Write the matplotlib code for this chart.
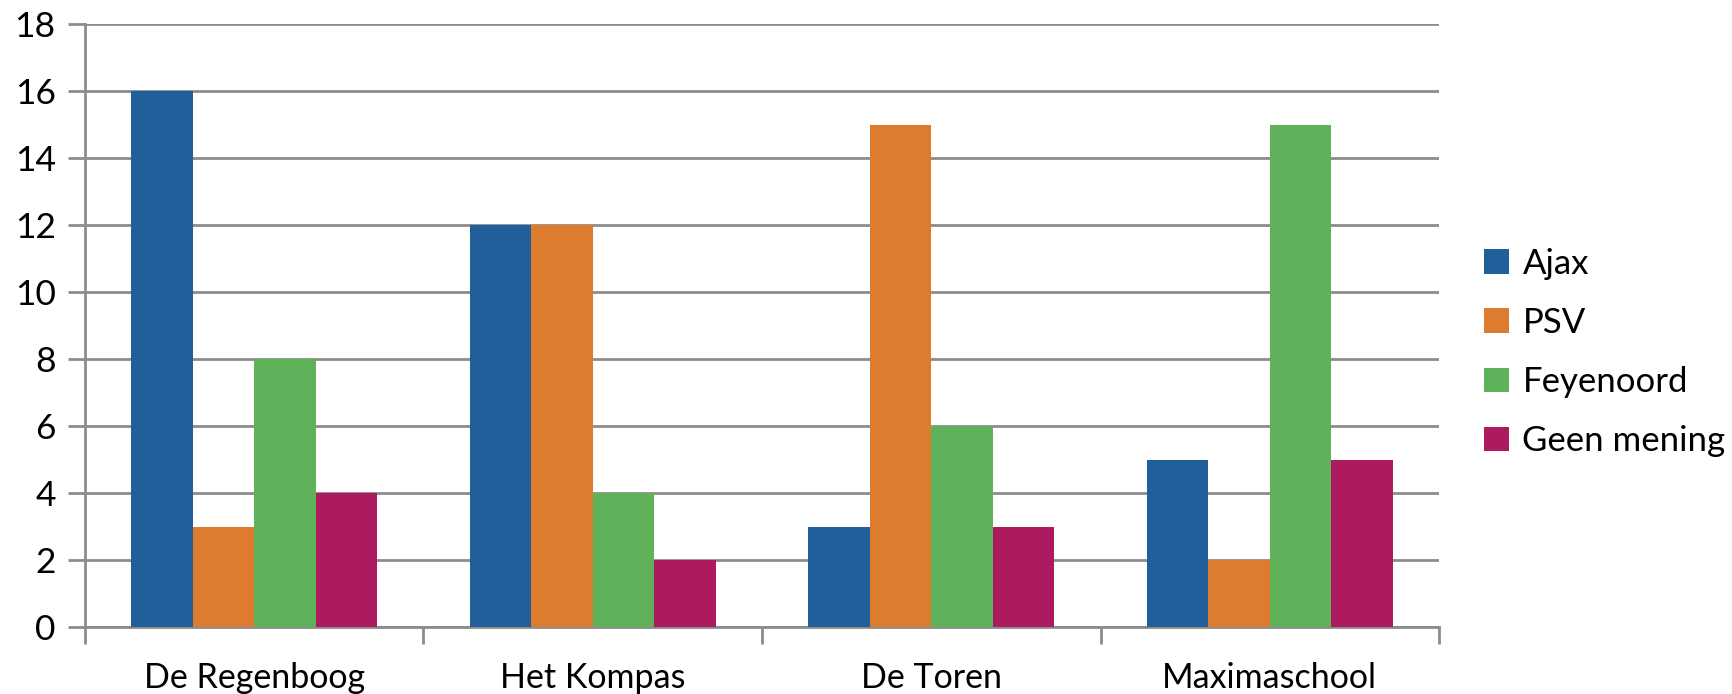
import numpy as np
import matplotlib.pyplot as plt
from matplotlib.patches import Patch

# Data
schools = ['De Regenboog', 'Het Kompas', 'De Toren', 'Maximaschool']
clubs = ['Ajax', 'PSV', 'Feyenoord', 'Geen mening']
ajax = [16, 12, 3, 5]
psv = [3, 12, 15, 2]
feyenoord = [8, 4, 6, 15]
geen_mening = [4, 2, 3, 5]
colors = ['#215F9B', '#DD7B2F', '#60B25A', '#AD1A60']

plt.rcParams['font.family'] = ['Lato', 'DejaVu Sans']

fig = plt.figure(figsize=(17.33, 6.94), dpi=100)
ax = fig.add_axes([0.049, 0.0965, 0.7814, 0.8689])

series = [ajax, psv, feyenoord, geen_mening]
x = np.arange(len(schools))
w = 0.182
for i, (vals, col) in enumerate(zip(series, colors)):
    ax.bar(x + (i - 1.5) * w, vals, width=w, color=col, zorder=3)

ax.set_xlim(-0.5, len(schools) - 0.5)
ax.set_ylim(0, 18)
ax.set_yticks(range(0, 19, 2))
ax.set_xticks(x)
ax.set_xticklabels(schools)
ax.set_xticks(np.arange(-0.5, len(schools)), minor=True)

grid_col = '#8C8C8C'
ax.yaxis.grid(True, color=grid_col, linewidth=2, zorder=0)
for s in ['top', 'right']:
    ax.spines[s].set_visible(False)
for s in ['left', 'bottom']:
    ax.spines[s].set_color(grid_col)
    ax.spines[s].set_linewidth(2)

ax.tick_params(axis='y', length=12, width=2, color=grid_col, labelsize=25.5, pad=9)
ax.tick_params(axis='x', which='major', length=0, labelsize=24.5, pad=25)
ax.tick_params(axis='x', which='minor', length=12, width=2, color=grid_col)

handles = [Patch(facecolor=c) for c in colors]
fig.legend(handles, clubs, loc='center left', bbox_to_anchor=(0.838, 0.492),
           frameon=False, fontsize=25, handlelength=0.72, handleheight=0.72,
           handletextpad=0.4, labelspacing=0.78)

fig.savefig('out.png', dpi=100)
